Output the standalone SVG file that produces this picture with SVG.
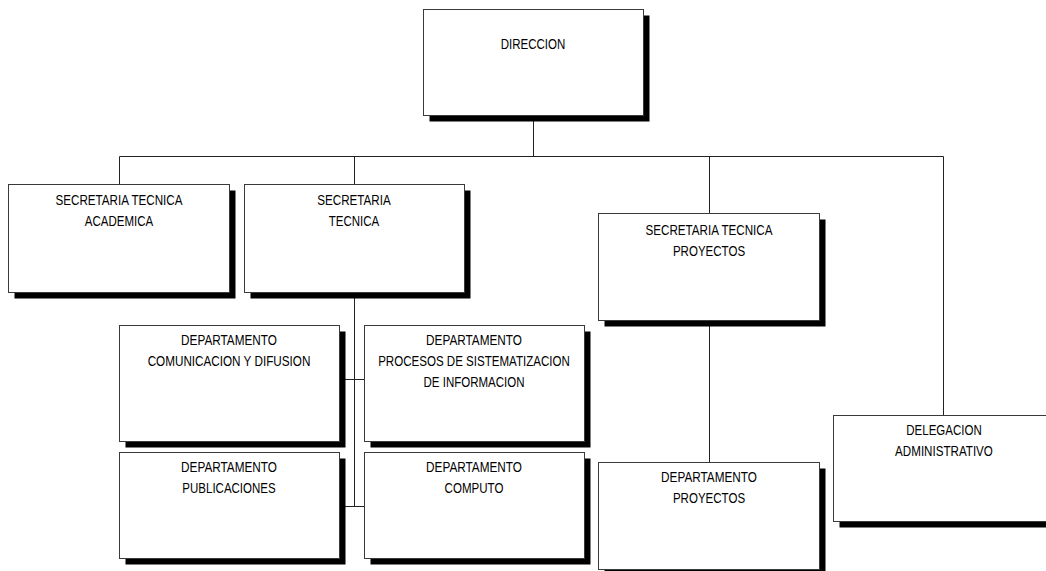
<svg xmlns="http://www.w3.org/2000/svg" width="1046" height="571" viewBox="0 0 1046 571">
<style>
.bg{fill:#fff}
.sh{fill:#000}
.bx{fill:#fff;stroke:#3a3a3a;stroke-width:1}
.ln{stroke:#222;stroke-width:1;fill:none}
text{font-family:"Liberation Sans",Arial,sans-serif;font-size:14px;fill:#000;text-anchor:middle}
</style>
<rect class="bg" x="0" y="0" width="1046" height="571"/>
<g id="connectors">
<path class="ln" d="M533.5 121V156.5M119.5 156.5H943.5M119.5 156.5V184M354.5 156.5V184M709.5 156.5V213M943.5 156.5V415M354.5 292V507M339 379.5H364M339 506.5H364M709.5 320V462"/>
</g>
<g id="direccion">
<rect class="sh" x="429.5" y="15.5" width="220" height="106"/>
<rect class="bx" x="423.5" y="9.5" width="220" height="106"/>
<text x="533" y="49" textLength="64.5" lengthAdjust="spacingAndGlyphs">DIRECCION</text>
</g>
<g id="st-academica">
<rect class="sh" x="14.5" y="190.5" width="221" height="108"/>
<rect class="bx" x="8.5" y="184.5" width="221" height="108"/>
<text x="119" y="205" textLength="127" lengthAdjust="spacingAndGlyphs">SECRETARIA TECNICA</text>
<text x="119" y="226" textLength="68.4" lengthAdjust="spacingAndGlyphs">ACADEMICA</text>
</g>
<g id="st-tecnica">
<rect class="sh" x="250.5" y="190.5" width="220" height="108"/>
<rect class="bx" x="244.5" y="184.5" width="220" height="108"/>
<text x="354" y="205" textLength="73.5" lengthAdjust="spacingAndGlyphs">SECRETARIA</text>
<text x="354" y="226" textLength="50.5" lengthAdjust="spacingAndGlyphs">TECNICA</text>
</g>
<g id="dep-comunicacion">
<rect class="sh" x="125.5" y="331.5" width="220" height="116"/>
<rect class="bx" x="119.5" y="325.5" width="220" height="116"/>
<text x="229" y="345" textLength="95.8" lengthAdjust="spacingAndGlyphs">DEPARTAMENTO</text>
<text x="229" y="366" textLength="162.7" lengthAdjust="spacingAndGlyphs">COMUNICACION Y DIFUSION</text>
</g>
<g id="dep-procesos">
<rect class="sh" x="370.5" y="331.5" width="220" height="116"/>
<rect class="bx" x="364.5" y="325.5" width="220" height="116"/>
<text x="474" y="345" textLength="95.8" lengthAdjust="spacingAndGlyphs">DEPARTAMENTO</text>
<text x="474" y="366" textLength="191.7" lengthAdjust="spacingAndGlyphs">PROCESOS DE SISTEMATIZACION</text>
<text x="474" y="387" textLength="101" lengthAdjust="spacingAndGlyphs">DE INFORMACION</text>
</g>
<g id="dep-publicaciones">
<rect class="sh" x="125.5" y="458.5" width="220" height="106"/>
<rect class="bx" x="119.5" y="452.5" width="220" height="106"/>
<text x="229" y="472" textLength="95.8" lengthAdjust="spacingAndGlyphs">DEPARTAMENTO</text>
<text x="229" y="493" textLength="93.3" lengthAdjust="spacingAndGlyphs">PUBLICACIONES</text>
</g>
<g id="dep-computo">
<rect class="sh" x="370.5" y="458.5" width="220" height="106"/>
<rect class="bx" x="364.5" y="452.5" width="220" height="106"/>
<text x="474" y="472" textLength="95.8" lengthAdjust="spacingAndGlyphs">DEPARTAMENTO</text>
<text x="474" y="493" textLength="58.8" lengthAdjust="spacingAndGlyphs">COMPUTO</text>
</g>
<g id="st-proyectos">
<rect class="sh" x="604.5" y="219.5" width="221" height="107"/>
<rect class="bx" x="598.5" y="213.5" width="221" height="107"/>
<text x="709" y="235" textLength="127" lengthAdjust="spacingAndGlyphs">SECRETARIA TECNICA</text>
<text x="709" y="256" textLength="72.2" lengthAdjust="spacingAndGlyphs">PROYECTOS</text>
</g>
<g id="dep-proyectos">
<rect class="sh" x="604.5" y="468.5" width="221" height="107"/>
<rect class="bx" x="598.5" y="462.5" width="221" height="107"/>
<text x="709" y="482" textLength="95.8" lengthAdjust="spacingAndGlyphs">DEPARTAMENTO</text>
<text x="709" y="503" textLength="72.2" lengthAdjust="spacingAndGlyphs">PROYECTOS</text>
</g>
<g id="delegacion">
<rect class="sh" x="839.5" y="421.5" width="221" height="106"/>
<rect class="bx" x="833.5" y="415.5" width="221" height="106"/>
<text x="944" y="435" textLength="75.4" lengthAdjust="spacingAndGlyphs">DELEGACION</text>
<text x="944" y="456" textLength="97.8" lengthAdjust="spacingAndGlyphs">ADMINISTRATIVO</text>
</g>
</svg>
